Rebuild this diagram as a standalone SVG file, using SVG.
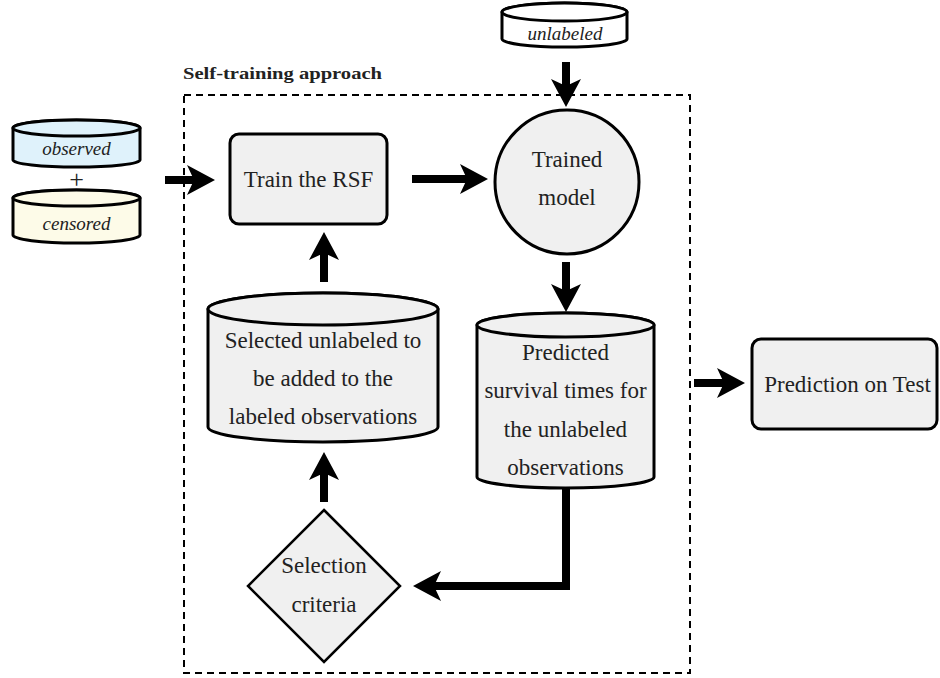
<svg xmlns="http://www.w3.org/2000/svg" width="940" height="678" viewBox="0 0 940 678">
<defs>
<marker id="ah" markerUnits="userSpaceOnUse" markerWidth="32" markerHeight="34" viewBox="0 -17 32 34" refX="8" refY="0" orient="auto">
<path d="M0,-15 L28,0 L0,15 L7,0 Z" fill="#000"/>
</marker>
<style>
.node{stroke:#000;stroke-width:3;fill:#f0f0f0}
.t{font-family:'Liberation Serif','Times New Roman','DejaVu Serif',serif;font-size:23px;fill:#222;text-anchor:middle}
.it{font-family:'Liberation Serif','Times New Roman','DejaVu Serif',serif;font-size:19px;font-style:italic;fill:#222;text-anchor:middle}
.b{font-family:'Liberation Serif','Times New Roman','DejaVu Serif',serif;font-weight:bold;font-size:16px;fill:#222}
.arr{stroke:#000;stroke-width:8;fill:none;marker-end:url(#ah)}
</style>
</defs>
<rect width="940" height="678" fill="#fff"/>
<g id="frame">
<rect x="184" y="95" width="506" height="578" fill="none" stroke="#000" stroke-width="2" stroke-dasharray="7,5"/>
<text class="b" x="183" y="79" textLength="199" lengthAdjust="spacingAndGlyphs">Self-training approach</text>
</g>
<g id="observed">
<path class="node" style="fill:#dff2fb" d="M13,128 V160 A63.5,7 0 0 0 140,160 V128 A63.5,8 0 0 0 13,128 Z"/>
<ellipse class="node" style="fill:#dff2fb" cx="76.5" cy="128" rx="63.5" ry="8"/>
<text class="it" x="76.5" y="155">observed</text>
</g>
<g id="plus"><text class="t" x="76.5" y="188" style="font-size:26px">+</text></g>
<g id="censored">
<path class="node" style="fill:#fdfbe8" d="M13,198 V235 A63.5,8 0 0 0 140,235 V198 A63.5,8 0 0 0 13,198 Z"/>
<ellipse class="node" style="fill:#fdfbe8" cx="76.5" cy="198" rx="63.5" ry="8"/>
<text class="it" x="76.5" y="230">censored</text>
</g>
<g id="unlabeled">
<path class="node" style="fill:#fff" d="M502,12 V39 A62.5,8 0 0 0 627,39 V12 A62.5,9 0 0 0 502,12 Z"/>
<ellipse class="node" style="fill:#fff" cx="564.5" cy="12" rx="62.5" ry="9"/>
<text class="it" x="565" y="40">unlabeled</text>
</g>
<g id="train">
<rect class="node" x="230" y="134" width="157" height="90" rx="9"/>
<text class="t" x="308.5" y="187">Train the RSF</text>
</g>
<g id="trained">
<circle class="node" cx="567" cy="182" r="72"/>
<text class="t" x="567" y="167">Trained</text>
<text class="t" x="567" y="205">model</text>
</g>
<g id="predicted">
<path class="node" d="M477,325 V477 A88.5,11 0 0 0 654,477 V325 A88.5,12 0 0 0 477,325 Z"/>
<ellipse class="node" cx="565.5" cy="325" rx="88.5" ry="12"/>
<text class="t" x="565.5" y="360">Predicted</text>
<text class="t" x="565.5" y="398">survival times for</text>
<text class="t" x="565.5" y="437">the unlabeled</text>
<text class="t" x="565.5" y="475">observations</text>
</g>
<g id="selected">
<path class="node" d="M208,309 V427 A115,15 0 0 0 438,427 V309 A115,16 0 0 0 208,309 Z"/>
<ellipse class="node" cx="323" cy="309" rx="115" ry="16"/>
<text class="t" x="323" y="348">Selected unlabeled to</text>
<text class="t" x="323" y="386">be added to the</text>
<text class="t" x="323" y="424">labeled observations</text>
</g>
<g id="selection">
<path class="node" style="stroke-width:2.5" d="M324,510 L400,586 L324,662 L248,586 Z"/>
<text class="t" x="324" y="573">Selection</text>
<text class="t" x="324" y="612">criteria</text>
</g>
<g id="test">
<rect class="node" x="752" y="339" width="185" height="90" rx="9"/>
<text class="t" x="847.5" y="392">Prediction on Test</text>
</g>
<g id="connectors">
<line class="arr" x1="165" y1="180" x2="195" y2="180"/>
<line class="arr" x1="412" y1="179" x2="468" y2="179"/>
<line class="arr" x1="566" y1="62" x2="566" y2="87"/>
<line class="arr" x1="566" y1="262" x2="566" y2="292"/>
<path class="arr" style="stroke-linejoin:miter" d="M566,488 V586 H433"/>
<line class="arr" x1="324" y1="502" x2="324" y2="472"/>
<line class="arr" x1="324" y1="282" x2="324" y2="252"/>
<line class="arr" x1="694" y1="383" x2="725" y2="383"/>
</g>
</svg>
